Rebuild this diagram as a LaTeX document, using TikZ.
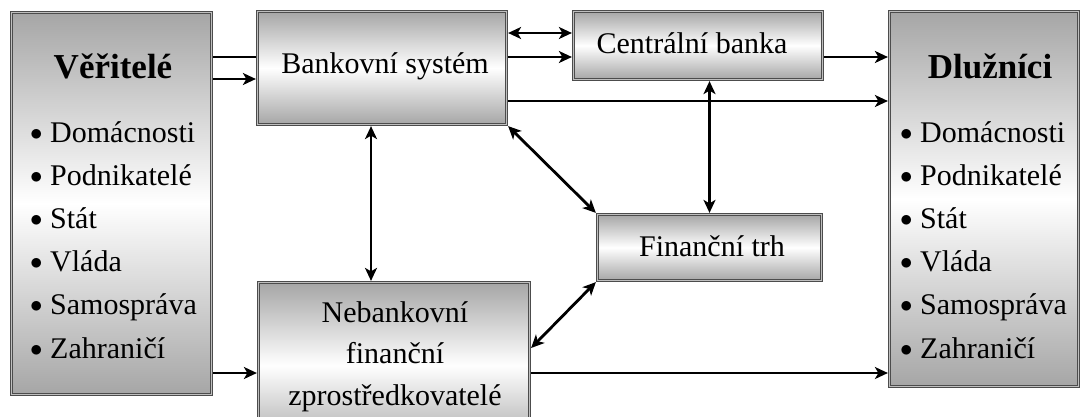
\documentclass[tikz,border=0pt]{standalone}
\usepackage{fontspec}
\setmainfont{Liberation Serif}
\usetikzlibrary{arrows.meta,calc}

\newcommand{\listdot}{\makebox[20pt][l]{\raisebox{2pt}{$\bullet$}}}

\begin{document}
\begin{tikzpicture}[x=1pt,y=-1pt,
  box/.style={draw=black!70, double=black!25, double distance=1.2pt, line width=0.8pt,
    outer sep=1.6pt, inner sep=0pt, top color=black!35, bottom color=black!35, middle color=white},
  lbl/.style={font=\fontsize{30}{36}\selectfont, anchor=base, inner sep=0pt},
  ttl/.style={font=\fontsize{35}{40}\selectfont\bfseries, anchor=base, inner sep=0pt},
  item/.style={font=\fontsize{30}{36}\selectfont, anchor=base west, inner sep=0pt},
  plain/.style={line width=2.8pt},
  arr/.style={line width=2.8pt, -{Stealth[length=13pt,width=12pt,inset=3.5pt]}},
  darr/.style={line width=2.8pt, {Stealth[length=13pt,width=12pt,inset=3.5pt]}-{Stealth[length=13pt,width=12pt,inset=3.5pt]}}]
\useasboundingbox (0,0) rectangle (1083,416);

% boxes
\node[box, minimum width=200pt, minimum height=382pt] (ver) at (111.5,203.5) {};
\node[box, minimum width=249pt, minimum height=113pt] (bank) at (382,68) {};
\node[box, minimum width=249pt, minimum height=68pt] (cb) at (698,45.5) {};
\node[box, minimum width=189pt, minimum height=375pt] (dl) at (984,199) {};
\node[box, minimum width=271pt, minimum height=166pt] (neb) at (394,365.5) {};
\node[box, minimum width=224pt, minimum height=66pt] (fin) at (709.5,247.5) {};

% texts
\node[ttl] (tver) at (113,78) {Věřitelé};
\node[ttl] (tdl) at (990,78) {Dlužníci};
\foreach \t [count=\i] in {Domácnosti, Podnikatelé, Stát, Vláda, Samospráva, Zahraničí} {
  \node[item] (vi\i) at (30,{142+43.2*(\i-1)}) {\listdot\t};
  \node[item] (di\i) at (900,{142+43.2*(\i-1)}) {\listdot\t};
}
\node[lbl] (tbank) at (385,73) {Bankovní systém};
\node[lbl] (tcb) at (692,53) {Centrální banka};
\node[lbl] (tfin) at (712,256) {Finanční trh};
\node[lbl] (tneb1) at (395,322) {Nebankovní};
\node[lbl] (tneb2) at (395,363.5) {finanční};
\node[lbl] (tneb3) at (395,405) {zprostředkovatelé};

% connectors
\coordinate (vb1) at ([yshift=11pt]bank.west);
\coordinate (vb2) at ([yshift=-11pt]bank.west);
\draw[plain] (ver.east |- vb1) -- (vb1);
\draw[arr] (ver.east |- vb2) -- (vb2);
\coordinate (vn) at ([yshift=-7.5pt]neb.west);
\draw[arr] (ver.east |- vn) -- (vn);

\coordinate (bc1) at ([yshift=12.5pt]cb.west);
\draw[darr] (bank.east |- bc1) -- (bc1);
\coordinate (bc2) at ([yshift=-11.5pt]cb.west);
\draw[arr] (bank.east |- bc2) -- (bc2);

\coordinate (bd) at ([yshift=-33pt]bank.east);
\draw[arr] (bd) -- (dl.west |- bd);
\coordinate (cd) at ([yshift=-11.5pt]cb.east);
\draw[arr] (cd) -- (dl.west |- cd);
\coordinate (nd) at ([yshift=-7.5pt]neb.east);
\draw[arr] (nd) -- (dl.west |- nd);

\coordinate (bn) at ([xshift=-11pt]bank.south);
\draw[darr] (bn) -- (bn |- neb.north);
\draw[darr] (bank.south east) -- (fin.north west);
\draw[darr] (fin.north) -- (fin.north |- cb.south);
\coordinate (nf) at ([yshift=17.5pt]neb.east);
\draw[darr] (nf) -- (fin.south west);
\end{tikzpicture}
\end{document}
